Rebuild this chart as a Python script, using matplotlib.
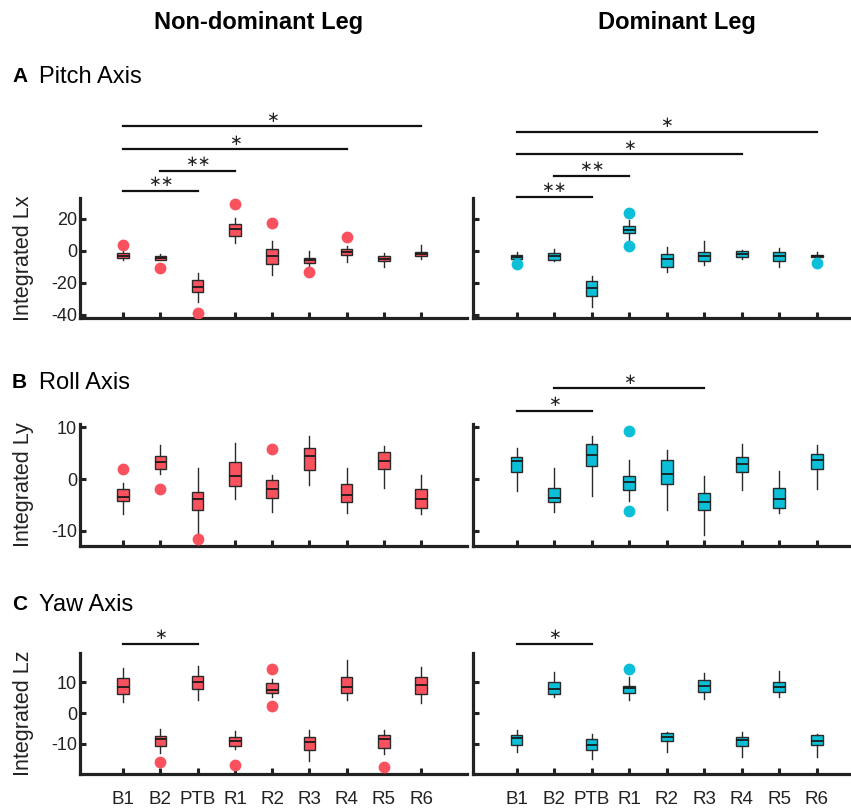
import matplotlib.pyplot as plt
import numpy as np

plt.rcParams['font.family'] = ['Liberation Sans', 'DejaVu Sans']
plt.rcParams['axes.unicode_minus'] = False

conds = ['B1', 'B2', 'PTB', 'R1', 'R2', 'R3', 'R4', 'R5', 'R6']

# box stats per condition: [whisker low, q1, median, q3, whisker high]
pitch_nd = [[-5.6, -4.6, -2.9, -1.5, 0.6], [-6.0, -5.6, -4.4, -3.1, -2.0],
            [-32.0, -25.6, -22.5, -18.0, -14.0], [5.2, 9.6, 13.5, 16.7, 20.8],
            [-15.4, -8.3, -3.1, 1.25, 6.5], [-9.4, -7.7, -6.0, -4.6, 0.0],
            [-6.7, -2.7, -0.8, 1.0, 3.3], [-10.2, -6.5, -4.8, -2.9, -1.5],
            [-4.8, -3.5, -1.9, -0.4, 3.5]]
pitch_nd_out = [[3.75], [-10.4], [-39.0], [29.4], [17.3], [-13.5], [8.5], [], []]
pitch_d = [[-5.7, -5.0, -4.0, -2.6, -1.0], [-6.3, -5.7, -3.4, -1.3, 1.3],
           [-35.4, -28.4, -23.4, -19.0, -16.0], [6.3, 10.9, 13.3, 15.6, 19.6],
           [-13.5, -9.9, -4.8, -1.7, 2.3], [-8.6, -6.3, -3.2, -0.4, 6.1],
           [-5.0, -4.0, -1.7, 0.0, 0.6], [-9.9, -6.1, -3.4, -0.8, 1.7],
           [-4.6, -4.0, -3.2, -2.3, -1.0]]
pitch_d_out = [[-8.5], [], [], [23.6, 3.0], [], [], [], [], [-7.6]]

roll_nd = [[-6.7, -4.3, -3.4, -1.85, -0.8], [0.95, 1.85, 3.25, 4.4, 6.6],
           [-10.4, -6.0, -3.8, -2.5, 2.2], [-3.8, -1.3, 0.6, 3.2, 6.9],
           [-6.4, -3.6, -1.85, -0.2, 0.7], [-1.1, 1.7, 4.5, 5.9, 8.2],
           [-6.6, -4.5, -3.0, -0.9, 2.2], [-1.8, 2.0, 3.4, 5.2, 6.3],
           [-6.8, -5.5, -3.8, -2.0, 0.8]]
roll_nd_out = [[1.9], [-2.0], [-11.6], [], [5.7], [], [], [], []]
roll_d = [[-2.3, 1.4, 3.4, 4.2, 5.9], [-6.3, -4.5, -3.7, -1.8, 2.2],
          [-3.2, 2.5, 4.6, 6.8, 8.3], [-4.2, -2.1, -0.6, 0.6, 3.6],
          [-5.9, -0.9, 0.9, 3.6, 5.6], [-10.8, -5.9, -4.5, -2.6, 0.6],
          [-2.2, 1.3, 2.8, 4.3, 6.8], [-6.5, -5.5, -3.9, -1.8, 1.6],
          [-2.0, 2.0, 3.6, 4.9, 6.6]]
roll_d_out = [[], [], [], [9.3, -6.1], [], [], [], [], []]

yaw_nd = [[3.7, 6.3, 8.4, 11.2, 14.4], [-12.8, -10.8, -8.4, -7.3, -5.2],
          [4.2, 7.8, 10.0, 12.0, 15.3], [-11.6, -10.5, -8.9, -7.7, -5.9],
          [5.2, 6.6, 7.6, 9.6, 11.0], [-15.5, -11.9, -9.4, -7.7, -5.4],
          [4.1, 6.5, 8.3, 11.6, 17.2], [-13.3, -11.2, -8.5, -7.1, -5.4],
          [3.2, 6.0, 9.0, 11.6, 15.0]]
yaw_nd_out = [[], [-15.9], [], [-16.8], [14.2, 2.2], [], [], [-17.5], []]
yaw_d = [[-12.6, -10.3, -8.1, -7.2, -5.6], [5.3, 6.2, 7.8, 10.0, 13.1],
         [-14.7, -11.9, -10.2, -8.3, -6.7], [4.1, 6.6, 8.2, 8.8, 11.7],
         [-12.6, -9.0, -7.6, -6.6, -6.0], [4.6, 6.7, 8.7, 10.6, 12.9],
         [-14.2, -10.5, -8.8, -7.7, -6.1], [5.2, 6.9, 8.3, 10.1, 13.7],
         [-14.2, -10.4, -9.0, -7.1, -6.8]]
yaw_d_out = [[], [], [], [14.2], [], [], [], [], []]

# significance bars: (from index, to index, height, label)
pitch_nd_sig = [(1, 9, 78, '∗'), (1, 7, 63.5, '∗'), (2, 4, 50, '∗∗'), (1, 3, 37.5, '∗∗')]
pitch_d_sig = [(1, 9, 74.5, '∗'), (1, 7, 60.5, '∗'), (2, 4, 47, '∗∗'), (1, 3, 33.8, '∗∗')]
roll_nd_sig = []
roll_d_sig = [(2, 6, 17.5, '∗'), (1, 3, 13.1, '∗')]
yaw_nd_sig = [(1, 3, 22.3, '∗')]
yaw_d_sig = [(1, 3, 22.3, '∗')]

red = '#F9525E'
cyan = '#0BBFD8'

rows = [
    ('Integrated Lx', (-42, 33.1), [-40, -20, 0, 20], 198, 318,
     [(pitch_nd, pitch_nd_out, pitch_nd_sig), (pitch_d, pitch_d_out, pitch_d_sig)]),
    ('Integrated Ly', (-12.9, 10.6), [-10, 0, 10], 424, 546,
     [(roll_nd, roll_nd_out, roll_nd_sig), (roll_d, roll_d_out, roll_d_sig)]),
    ('Integrated Lz', (-19.7, 19.4), [-10, 0, 10], 653, 774,
     [(yaw_nd, yaw_nd_out, yaw_nd_sig), (yaw_d, yaw_d_out, yaw_d_sig)]),
]

W, H = 851, 808
fig = plt.figure(figsize=(W / 100, H / 100), dpi=100)

col_px = [(80, 467, 10.23), (473, 851, 9.91)]
colors = [red, cyan]

for r, (ylab, ylim, yticks, top, bot, panels) in enumerate(rows):
    for c, (boxes, outs, sigs) in enumerate(panels):
        x0, x1, xr = col_px[c]
        ax = fig.add_axes([x0 / W, 1 - bot / H, (x1 - x0) / W, (bot - top) / H])
        stats = []
        for i, b in enumerate(boxes):
            stats.append(dict(whislo=b[0], q1=b[1], med=b[2], q3=b[3], whishi=b[4],
                              fliers=outs[i], label=conds[i]))
        ax.bxp(stats, positions=np.arange(1, 10), widths=0.31, patch_artist=True,
               showcaps=False, zorder=3,
               boxprops=dict(facecolor=colors[c], edgecolor='#2a2a2a', linewidth=1.0),
               medianprops=dict(color='#1a1a1a', linewidth=1.3),
               whiskerprops=dict(color='#2a2a2a', linewidth=1.0),
               flierprops=dict(marker='o', markersize=8.5, markerfacecolor=colors[c],
                               markeredgecolor='none'))
        ax.set_xlim(-0.16, xr)
        ax.set_ylim(*ylim)
        ax.set_yticks(yticks)
        ax.set_xticks(np.arange(1, 10))
        for s in ['top', 'right']:
            ax.spines[s].set_visible(False)
        for s in ['left', 'bottom']:
            ax.spines[s].set_linewidth(2.3)
            ax.spines[s].set_color('#222222')
        ax.tick_params(direction='in', length=4, width=2.2, color='#222222',
                       labelsize=13, labelcolor='#222222', pad=2)
        if c == 0:
            ax.set_ylabel(ylab, fontsize=15.5, color='#222222')
            ax.yaxis.set_label_coords(-0.118, 0.5)
        else:
            ax.set_yticklabels([])
        if r == 2:
            ax.set_xticklabels(conds, fontsize=13.5, color='#222222')
            ax.tick_params(axis='x', pad=12)
        else:
            ax.set_xticklabels([])
        for a, b, h, lab in sigs:
            ax.plot([a, b], [h, h], color='#111111', lw=1.6, clip_on=False)
            ax.annotate(lab, xy=((a + b) / 2, h), xytext=(0, 6.5), textcoords='offset points',
                        ha='center', va='center', fontsize=11, color='#222222',
                        family='DejaVu Sans', annotation_clip=False)

fig.text(259 / W, 1 - 22 / H, 'Non-dominant Leg', ha='center', va='center',
         fontsize=17, fontweight='bold')
fig.text(677 / W, 1 - 22 / H, 'Dominant Leg', ha='center', va='center',
         fontsize=17, fontweight='bold')

sections = [('A', 'Pitch Axis', 77), ('B', 'Roll Axis', 383), ('C', 'Yaw Axis', 605)]
for letter, name, yp in sections:
    fig.text(12 / W, 1 - yp / H, letter, ha='left', va='center', fontsize=15,
             fontweight='bold')
    fig.text(39 / W, 1 - yp / H, name, ha='left', va='center', fontsize=17)

fig.savefig('out.png', dpi=100)
